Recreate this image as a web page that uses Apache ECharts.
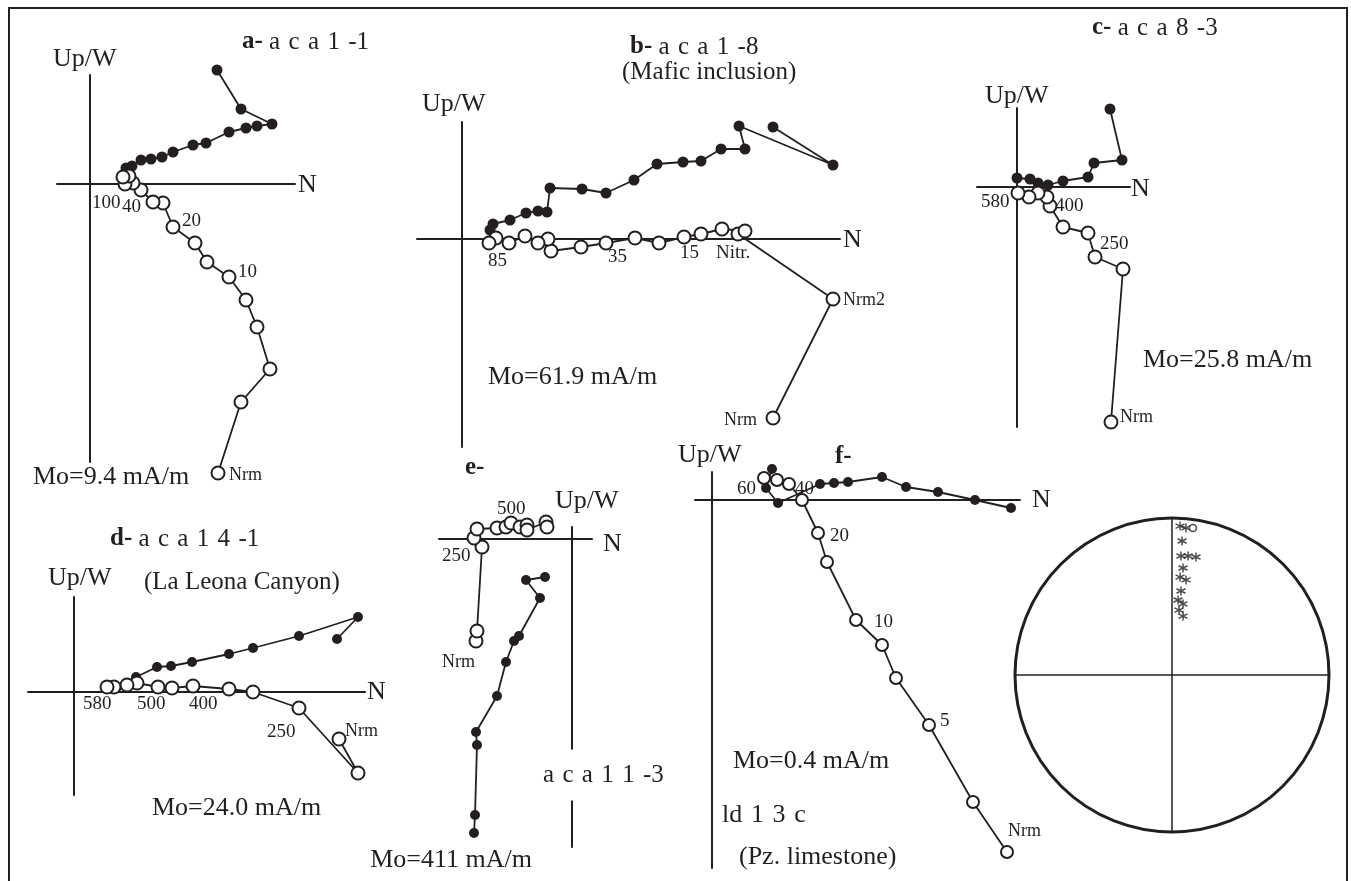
<!DOCTYPE html>
<html>
<head>
<meta charset="utf-8">
<script src="https://cdn.jsdelivr.net/npm/echarts@6/dist/echarts.min.js"></script>
<style>html,body{margin:0;padding:0;background:#fff}#c{width:1351px;height:881px}</style>
</head>
<body>
<div id="c"></div>
<script>
// ---- data: [N component, Up/W component] in plot units (origin = axis crossing) ----
// a- aca 1-1
const aFilled = [[127,114],[151,75],[182,60],[167,58],[156,56],[139,52],[116,41],[103,39],[83,32],[72,27],[61,25],[51,24],[42,18],[36,16]];
const aOpen = [[128,-289],[151,-218],[180,-185],[167,-143],[156,-116],[139,-93],[117,-78],[105,-59],[83,-43],[73,-19],[63,-18],[51,-6],[43,1],[35,0],[39,8],[33,7]];
// b- aca 1-8
const bFilled = [[311,112],[371,74],[277,113],[283,90],[259,90],[239,78],[221,77],[195,75],[172,59],[144,46],[120,50],[88,51],[85,27],[76,28],[64,26],[48,19],[31,15],[28,9]];
const bOpen = [[311,-179],[371,-60],[276,5],[283,8],[260,10],[239,5],[222,2],[197,-4],[173,1],[144,-4],[119,-8],[89,-12],[86,0],[76,-4],[63,3],[47,-4],[34,1],[27,-4]];
// c- aca 8-3
const cFilled = [[93,78],[105,27],[77,24],[71,10],[46,6],[31,2],[21,4],[13,8],[0,9]];
const cOpen = [[94,-235],[106,-82],[78,-70],[71,-46],[46,-40],[33,-19],[30,-10],[21,-6],[12,-10],[1,-6]];
// d- aca 14-1
const dFilled = [[263,53],[284,75],[225,56],[179,44],[155,38],[118,30],[97,26],[83,25],[62,15]];
const dOpen = [[265,-47],[284,-81],[225,-16],[179,0],[155,3],[119,6],[98,4],[84,5],[63,9],[53,7],[40,5],[33,5]];
// e- aca 11-3
const eFilled = [[-98,-294],[-97,-276],[-95,-206],[-96,-193],[-75,-157],[-66,-123],[-58,-102],[-53,-97],[-32,-59],[-46,-41],[-27,-38]];
const eOpen = [[-96,-102],[-95,-92],[-90,-8],[-98,1],[-95,10],[-75,11],[-66,12],[-61,16],[-52,12],[-45,14],[-45,9],[-26,17],[-25,12]];
// f- ld 13c
const fFilled = [[299,-8],[263,0],[226,8],[194,13],[170,23],[136,18],[122,17],[108,16],[66,-3],[54,12],[60,31]];
const fOpen = [[295,-352],[261,-302],[217,-225],[184,-178],[170,-145],[144,-120],[115,-62],[106,-33],[90,0],[77,16],[65,20],[52,22]];
// stereonet directions: [projected radius (0-1), declination deg]
const netStars = [[0.950,3.1],[0.941,5.4],[0.856,4.3],[0.760,4.3],[0.765,7.7],[0.767,11.5],[0.685,5.9],[0.626,4.7],[0.612,8.4],[0.538,6.1],[0.479,4.6],[0.458,8.8],[0.416,6.1],[0.382,10.6]];
const netMean = [[0.946,8.1]];

const INK = '#231f20';
const FONT = '"Liberation Serif","Times New Roman",serif';

const grids = [
  {left:57, top:75, width:238, height:387},
  {left:417, top:122, width:423, height:325},
  {left:977, top:108, width:153, height:319},
  {left:28, top:597, width:337, height:198},
  {left:439, top:527, width:153, height:320},
  {left:695, top:472, width:325, height:396}
];
const xr = [[-33,205],[-45,378],[-40,113],[-46,291],[-133,20],[-17,308]];
const yr = [[-278,109],[-208,117],[-240,79],[-103,95],[-308,12],[-368,28]];
const axLine = {show:true, onZero:true, lineStyle:{color:INK, width:2}};
const xAxis = xr.map((r,i)=>({type:'value', gridIndex:i, min:r[0], max:r[1], axisLine:axLine, axisTick:{show:false}, axisLabel:{show:false}, splitLine:{show:false}}));
const yAxis = yr.map((r,i)=>({type:'value', gridIndex:i, min:r[0], max:r[1], axisLine:axLine, axisTick:{show:false}, axisLabel:{show:false}, splitLine:{show:false}}));

function filled(data, i, size){
  return {type:'line', xAxisIndex:i, yAxisIndex:i, data, clip:false, silent:true, animation:false,
    symbol:'circle', symbolSize:size||11, showSymbol:true, showAllSymbol:true,
    itemStyle:{color:INK}, lineStyle:{color:INK, width:1.8}, z:3};
}
function open(data, i, size){
  return {type:'line', xAxisIndex:i, yAxisIndex:i, data, clip:false, silent:true, animation:false,
    symbol:'circle', symbolSize:size||13, showSymbol:true, showAllSymbol:true,
    itemStyle:{color:'#fff', borderColor:INK, borderWidth:2}, lineStyle:{color:INK, width:1.8}, z:4};
}
const series = [
  filled(aFilled,0), open(aOpen,0),
  filled(bFilled,1), open(bOpen,1),
  filled(cFilled,2), open(cOpen,2),
  filled(dFilled,3,10), open(dOpen,3),
  filled(eFilled,4,10), open(eOpen,4),
  filled(fFilled,5,10), open(fOpen,5,12),
  {type:'scatter', coordinateSystem:'polar', data:netStars, silent:true, animation:false,
   symbol:'path://M5,0L5,10M0.67,2.5L9.33,7.5M9.33,2.5L0.67,7.5', symbolSize:9,
   itemStyle:{color:'none', borderColor:INK, borderWidth:1.5}},
  {type:'scatter', coordinateSystem:'polar', data:netMean, silent:true, animation:false,
   symbol:'circle', symbolSize:7, itemStyle:{color:'#fff', borderColor:INK, borderWidth:1.5}}
];

const SP = ' \u200A';
const spaced = s => s.split(' ').join(SP);
function T(text, x, y, size, align, extra){
  return {type:'text', z:100, silent:true, style:Object.assign({text, x, y, fontSize:size, fontFamily:FONT, fill:INK, align:align||'left', verticalAlign:'middle'}, extra||{})};
}
function Title(bold, rest, x, y, size){
  size = size||25;
  return {type:'text', z:100, silent:true, style:{text:'{b|'+bold+'} '+spaced(rest), x, y, fontSize:size, fontFamily:FONT, fill:INK, align:'left', verticalAlign:'middle',
    rich:{b:{fontWeight:'bold', fontSize:size, fontFamily:FONT, fill:INK}}}};
}
const texts = [
  // a
  T('Up/W',53,59,26), T('N',298,185,26), Title('a-','a c a 1 -1',242,42),
  T('100',92,203,19), T('40',122,207,19), T('20',182,221,19), T('10',238,272,19),
  T('Nrm',229,475,18), T('Mo=9.4 mA/m',33,477,26),
  // b
  Title('b-','a c a 1 -8',630,47), T('(Mafic inclusion)',622,72,25), T('Up/W',422,104,26), T('N',843,240,26),
  T('85',488,261,19), T('35',608,257,19), T('15',680,253,19), T('Nitr.',716,253,19),
  T('Nrm2',843,300,18), T('Nrm',757,420,18,'right'), T('Mo=61.9 mA/m',488,377,26),
  // c
  Title('c-','a c a 8 -3',1092,28), T('Up/W',985,96,26), T('N',1131,189,26),
  T('580',981,202,19), T('400',1055,206,19), T('250',1100,244,19), T('Nrm',1120,417,18),
  T('Mo=25.8 mA/m',1143,360,26),
  // d
  Title('d-','a c a 1 4 -1',110,539), T('Up/W',48,578,26), T('(La Leona Canyon)',144,582,25), T('N',367,692,26),
  T('580',83,704,19), T('500',137,704,19), T('400',189,704,19), T('250',267,732,19), T('Nrm',345,731,18),
  T('Mo=24.0 mA/m',152,808,26),
  // e
  T('e-',465,468,25,'left',{fontWeight:'bold'}), T('500',497,509,19), T('Up/W',555,501,26), T('N',603,544,26),
  T('250',442,556,19), T('Nrm',442,662,18),
  T(spaced('a c a 1 1 -3'),541,775,25,'left',{backgroundColor:'#fff', padding:[13,2,13,2]}),
  T('Mo=411 mA/m',532,860,26,'right'),
  // f
  T('Up/W',678,455,26), T('f-',835,457,25,'left',{fontWeight:'bold'}), T('N',1032,500,26),
  T('60',737,489,19), T('40',795,489,19), T('20',830,536,19), T('10',874,622,19), T('5',940,721,19),
  T('Nrm',1008,831,18), T('Mo=0.4 mA/m',733,761,26), T(spaced('ld 1 3 c'),722,815,26), T('(Pz. limestone)',739,857,26),
  // frame
  {type:'polyline', z:90, silent:true, shape:{points:[[9,900],[9,8],[1347,8],[1347,900]]}, style:{stroke:INK, lineWidth:2, fill:null}}
];

const chart = echarts.init(document.getElementById('c'));
chart.setOption({
  backgroundColor:'#fff',
  animation:false,
  grid:grids, xAxis, yAxis,
  polar:{center:[1172,675], radius:157},
  angleAxis:{type:'value', min:0, max:360, interval:90, startAngle:90, clockwise:true,
    axisLine:{show:true, lineStyle:{color:INK, width:3}}, axisTick:{show:false}, axisLabel:{show:false},
    splitLine:{show:true, lineStyle:{color:INK, width:1.5}}},
  radiusAxis:{type:'value', min:0, max:1, axisLine:{show:false}, axisTick:{show:false}, axisLabel:{show:false}, splitLine:{show:false}},
  series,
  graphic:texts
});
</script>
</body>
</html>
